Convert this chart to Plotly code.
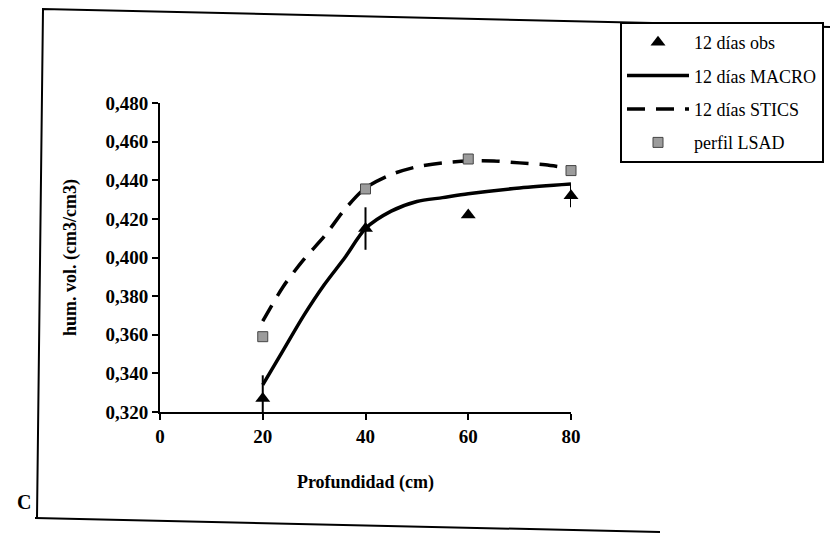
import plotly.graph_objects as go

# ---------------- data ----------------
obs_x = [20, 40, 60, 80]
obs_y = [0.327, 0.415, 0.422, 0.432]
obs_err = [0.012, 0.011, 0.0, 0.006]

macro_x = [20, 24, 28, 32, 36, 40, 45, 50, 55, 60, 70, 80]
macro_y = [0.334, 0.352, 0.370, 0.386, 0.400, 0.415, 0.424, 0.429, 0.431, 0.433, 0.436, 0.438]

stics_x = [20, 24, 28, 32, 36, 40, 45, 50, 55, 60, 65, 70, 75, 80]
stics_y = [0.367, 0.385, 0.399, 0.411, 0.425, 0.436, 0.443, 0.447, 0.449, 0.450, 0.450, 0.449, 0.448, 0.446]

lsad_x = [20, 40, 60, 80]
lsad_y = [0.359, 0.4355, 0.451, 0.445]

x_ticks = [0, 20, 40, 60, 80]
y_ticks = [0.320, 0.340, 0.360, 0.380, 0.400, 0.420, 0.440, 0.460, 0.480]

# ---------------- layout geometry ----------------
W, H = 830, 535
L, R, T, B = 160, 259, 103, 123
PW, PH = W - L - R, H - T - B


def px(x):
    return (x - L) / PW


def py(y):
    return (H - B - y) / PH


SERIF = "Liberation Serif"

fig = go.Figure()

fig.add_trace(go.Scatter(
    x=obs_x, y=obs_y, mode="markers", name="12 días obs",
    marker=dict(symbol="triangle-up", size=13, color="black"),
    error_y=dict(type="data", array=obs_err, visible=True, color="black", thickness=2, width=0),
    legendgroup="a", cliponaxis=False,
))
fig.add_trace(go.Scatter(
    x=macro_x, y=macro_y, mode="lines", name="12 días MACRO",
    line=dict(color="black", width=3.5, shape="spline", smoothing=0.8),
    legendgroup="b", cliponaxis=False,
))
fig.add_trace(go.Scatter(
    x=stics_x, y=stics_y, mode="lines", name="12 días STICS",
    line=dict(color="black", width=3.5, dash="18px,11px", shape="spline", smoothing=0.8),
    legendgroup="c", cliponaxis=False,
))
fig.add_trace(go.Scatter(
    x=lsad_x, y=lsad_y, mode="markers", name="perfil LSAD",
    marker=dict(symbol="square", size=10, color="#9c9c9c", line=dict(color="#444", width=1)),
    legendgroup="d", cliponaxis=False,
))

# scanned chart-area frame (slightly skewed as in the scan)
fig.add_shape(type="path", xref="paper", yref="paper",
              path=f"M {px(830)},{py(27)} L {px(43)},{py(9)} L {px(37)},{py(518)}",
              line=dict(color="black", width=2))
fig.add_shape(type="line", xref="paper", yref="paper",
              x0=px(35), y0=py(518), x1=px(660), y1=py(532),
              line=dict(color="black", width=2))

fig.add_annotation(text="<b>C</b>", xref="paper", yref="paper",
                   x=px(15), y=py(515), showarrow=False,
                   font=dict(family=SERIF, size=20, color="black"))

fig.update_layout(
    width=W, height=H,
    margin=dict(l=L, r=R, t=T, b=B, autoexpand=False),
    paper_bgcolor="white", plot_bgcolor="white",
    separators=",.",
    font=dict(family=SERIF, color="black"),
    showlegend=True,
    legend=dict(
        xref="container", yref="container",
        x=620 / W, y=1 - 22 / H, xanchor="left", yanchor="top",
        bgcolor="white", bordercolor="black", borderwidth=2,
        font=dict(family=SERIF, size=18, color="black"),
        itemwidth=62, tracegroupgap=7,
        traceorder="grouped",
    ),
    xaxis=dict(
        range=[0, 80], tickvals=x_ticks, ticktext=[str(v) for v in x_ticks],
        showgrid=False, zeroline=False, showline=True, linecolor="black", linewidth=2,
        ticks="outside", ticklen=6, tickwidth=2, tickcolor="black",
        tickfont=dict(family=SERIF, size=19, color="black", weight="bold"),
        title=dict(text="Profundidad (cm)", standoff=30,
                   font=dict(family=SERIF, size=18, color="black", weight="bold")),
        automargin=False,
    ),
    yaxis=dict(
        range=[0.320, 0.480], tickvals=y_ticks, tickformat=".3f",
        showgrid=False, zeroline=False, showline=True, linecolor="black", linewidth=2,
        ticks="outside", ticklen=6, tickwidth=2, tickcolor="black",
        tickfont=dict(family=SERIF, size=19, color="black", weight="bold"),
        title=dict(text="hum. vol. (cm3/cm3)", standoff=24,
                   font=dict(family=SERIF, size=18, color="black", weight="bold")),
        automargin=False,
    ),
)

fig.write_html("out.html", config={"displayModeBar": False},
               post_script="document.body.style.margin='0';")
